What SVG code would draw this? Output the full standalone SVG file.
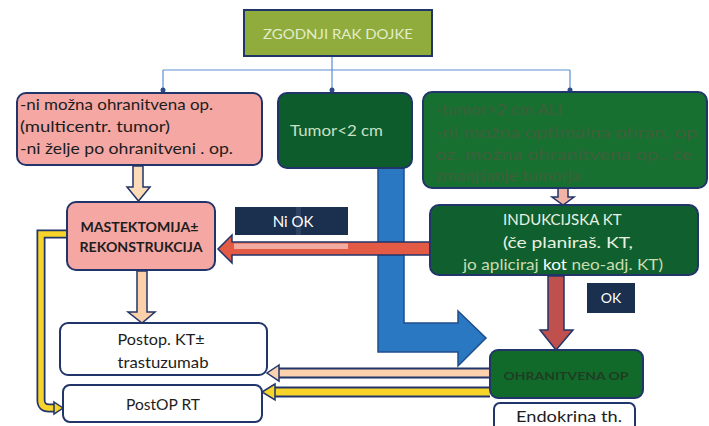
<svg xmlns="http://www.w3.org/2000/svg" width="709" height="426" viewBox="0 0 709 426">
<style>
.box{stroke:#22356a;stroke-width:2}
.t{font-family:Lato,"Liberation Sans",sans-serif}
.dk{fill:#1d1d1d}
.lt{fill:#e9f1e4}
.thin{fill:none;stroke:#5b8fd0;stroke-width:1.2}
.arr{stroke:#22356a;stroke-width:1.5;stroke-linejoin:miter}
</style>
<defs>
<marker id="dot" viewBox="0 0 6 6" refX="3" refY="3" markerWidth="5" markerHeight="5" orient="auto">
<circle cx="3" cy="3" r="2.5" fill="#2a4a8a"/>
</marker>
</defs>
<rect width="709" height="426" fill="#ffffff"/>

<g id="connectors">
<path class="thin" d="M332,56 V70 M163,70 H570"/>
<path class="thin" d="M163,70 V90" marker-end="url(#dot)"/>
<path class="thin" d="M332,70 V90" marker-end="url(#dot)"/>
<path class="thin" d="M570,70 V90" marker-end="url(#dot)"/>
<!-- box1 to mastektomija -->
<path class="arr" fill="#fcdcb8" d="M133,166 V187 H127 L138.5,201 L150,187 H143 V166 Z"/>
<!-- mastektomija to postop -->
<path class="arr" fill="#fcd0a8" d="M137,271 V312 H128 L142,323 L155,312 H147 V271 Z"/>
<!-- box3 to induk -->
<path class="arr" fill="#f1b3a6" d="M558,188 V197 H552 L563,205 L574,197 H568 V188 Z"/>
<!-- blue L arrow -->
<path fill="#2a78c2" stroke="#1f4e8c" stroke-width="1.5" d="M378,168 V352 H458 V366 L486,338 L458,311 V323 H404 V168 Z"/>
<!-- red left arrow -->
<path class="arr" fill="#e35b45" d="M430,242 H232 V235 L218,249 L232,263 V255 H430 Z"/>
<rect x="234" y="243.5" width="114" height="5.5" fill="#f3aaa0"/>
<!-- red down arrow -->
<path class="arr" fill="#c0504d" d="M548,276 V330 H540 L556,350 L573,330 H564 V276 Z"/>
<!-- peach horizontal to postop KT -->
<path d="M490,373 H276" stroke="#22356a" stroke-width="11" fill="none"/>
<path d="M490,373 H276" stroke="#fcd2ae" stroke-width="7" fill="none"/>
<path class="arr" fill="#fcd2ae" d="M279,365 L267,373 L279,381 Z"/>
<!-- yellow horizontal to postop RT -->
<path d="M490,392 H272" stroke="#22356a" stroke-width="11" fill="none"/>
<path d="M490,392 H272" stroke="#f7d42a" stroke-width="7" fill="none"/>
<path class="arr" fill="#f7d42a" d="M275,384 L262,392 L275,400 Z"/>
<!-- yellow left loop -->
<path d="M67,234 H41 V400 Q41,408 49,408 H56" stroke="#22356a" stroke-width="9" fill="none"/>
<path d="M67,234 H41 V400 Q41,408 49,408 H56" stroke="#f7d42a" stroke-width="5.5" fill="none"/>
<path class="arr" fill="#f7d42a" d="M54,402 L63,408 L54,414 Z"/>
</g>

<g id="top">
<rect class="box" x="244" y="10" width="188" height="46" fill="#8fac3c"/>
<text class="t" x="338" y="39" text-anchor="middle" font-size="14" fill="#e4eccb" textLength="150" lengthAdjust="spacingAndGlyphs">ZGODNJI RAK DOJKE</text>
</g>

<g id="box1">
<rect class="box" x="17" y="93" width="245" height="72" rx="9" fill="#f4a7a3"/>
<text class="t dk" font-size="15" x="20">
<tspan x="20" y="110" textLength="193" lengthAdjust="spacingAndGlyphs">-ni možna ohranitvena op.</tspan>
<tspan x="20" y="132" textLength="150" lengthAdjust="spacingAndGlyphs">(multicentr. tumor)</tspan>
<tspan x="20" y="154" textLength="213" lengthAdjust="spacingAndGlyphs">-ni želje po ohranitveni . op.</tspan>
</text>
</g>

<g id="box2">
<rect class="box" x="278" y="93" width="134" height="75" rx="9" fill="#0d5c2c"/>
<text class="t" x="290" y="136" font-size="15" fill="#c9e0c4" textLength="93" lengthAdjust="spacingAndGlyphs">Tumor&lt;2 cm</text>
</g>

<g id="box3">
<rect class="box" x="423" y="92" width="284" height="96" rx="9" fill="#187030"/>
<text class="t" font-size="15" fill="#3e5e3c">
<tspan x="435" y="115" textLength="127" lengthAdjust="spacingAndGlyphs">-tumor&gt;2 cm ALI</tspan>
<tspan x="435" y="138" textLength="262" lengthAdjust="spacingAndGlyphs">-ni možna optimalna ohran. op</tspan>
<tspan x="435" y="160" textLength="257" lengthAdjust="spacingAndGlyphs">oz. možna ohranitvena op., če</tspan>
<tspan x="435" y="181" textLength="145" lengthAdjust="spacingAndGlyphs">zmanjšanje tumorja</tspan>
</text>
</g>

<g id="induk">
<rect class="box" x="430" y="205" width="268" height="70" rx="9" fill="#0f602e"/>
<text class="t lt" font-size="15" text-anchor="middle">
<tspan x="564" y="225" textLength="118" lengthAdjust="spacingAndGlyphs">INDUKCIJSKA KT</tspan>
<tspan x="568" y="248" textLength="130" lengthAdjust="spacingAndGlyphs">(če planiraš. KT,</tspan>
</text>
<text class="t" font-size="15" x="463" y="270" textLength="200" lengthAdjust="spacingAndGlyphs"><tspan fill="#c9dcb0">jo apliciraj </tspan><tspan fill="#ffffff">kot</tspan><tspan fill="#c9dcb0"> neo-adj. KT)</tspan></text>
</g>

<g id="mast">
<rect class="box" x="67" y="202" width="148" height="68" rx="9" fill="#f4a7a3"/>
<text class="t dk" font-size="13" font-weight="bold" text-anchor="middle">
<tspan x="141" y="232" textLength="118" lengthAdjust="spacingAndGlyphs">MASTEKTOMIJA±</tspan>
<tspan x="141" y="252" textLength="123" lengthAdjust="spacingAndGlyphs">REKONSTRUKCIJA</tspan>
</text>
</g>

<g id="niok">
<rect x="235" y="207" width="113" height="28" fill="#1b2f4f"/>
<rect x="296" y="207" width="5" height="28" fill="#2c4366"/>
<text class="t" x="293" y="227" font-size="15" fill="#ffffff" text-anchor="middle">Ni OK</text>
</g>

<g id="ok">
<rect x="587" y="283" width="48" height="30" fill="#1b2f4f"/>
<text class="t" x="611" y="303" font-size="14" fill="#ffffff" text-anchor="middle">OK</text>
</g>

<g id="ohran">
<rect class="box" x="490" y="350" width="153" height="48" rx="8" fill="#116a2a"/>
<text class="t" x="566" y="380" font-size="12" font-weight="bold" fill="#1f3d24" text-anchor="middle" textLength="125" lengthAdjust="spacingAndGlyphs">OHRANITVENA OP</text>
</g>

<g id="endo">
<rect class="box" x="494" y="403" width="141" height="30" rx="6" fill="#ffffff"/>
<text class="t dk" x="569" y="422" font-size="15" text-anchor="middle" textLength="106" lengthAdjust="spacingAndGlyphs">Endokrina th.</text>
</g>

<g id="postkt">
<rect class="box" x="60" y="323" width="207" height="52" rx="8" fill="#ffffff"/>
<text class="t dk" font-size="15" text-anchor="middle">
<tspan x="163" y="345" textLength="87" lengthAdjust="spacingAndGlyphs">Postop. KT±</tspan>
<tspan x="163" y="368" textLength="91" lengthAdjust="spacingAndGlyphs">trastuzumab</tspan>
</text>
</g>

<g id="postrt">
<rect class="box" x="63" y="385" width="199" height="37" rx="7" fill="#ffffff"/>
<text class="t dk" x="163" y="410" font-size="15" text-anchor="middle" textLength="74" lengthAdjust="spacingAndGlyphs">PostOP RT</text>
</g>
</svg>
